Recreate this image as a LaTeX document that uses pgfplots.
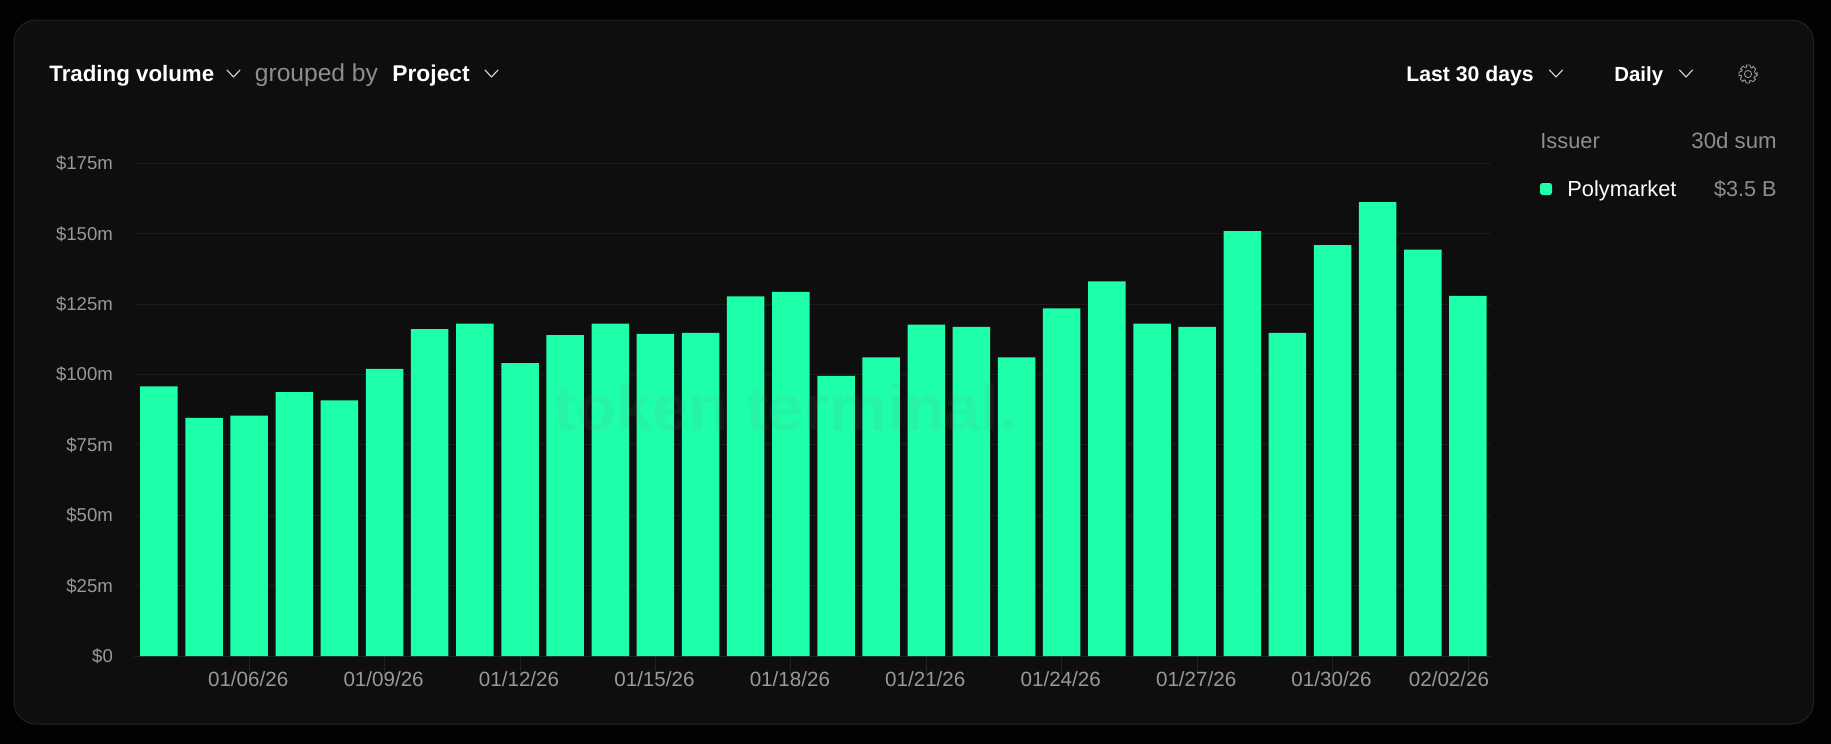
\documentclass[border=0pt]{standalone}
\usepackage{pgfplots}
\pgfplotsset{compat=1.18}
\usepackage{fontspec}
\setmainfont{Liberation Sans}
\definecolor{outer}{HTML}{020202}
\definecolor{panel}{HTML}{0E0E0E}
\definecolor{edge}{HTML}{222222}
\definecolor{gridc}{HTML}{1B1B1B}
\definecolor{barc}{HTML}{1EFFAA}
\definecolor{greytxt}{HTML}{8E8E8E}
\definecolor{ticktxt}{HTML}{999999}
\pgfplotstableread{
i v
0 95.8
1 84.6
2 85.4
3 93.7
4 90.8
5 102.0
6 116.1
7 118.1
8 104.0
9 114.0
10 118.1
11 114.4
12 114.8
13 127.7
14 129.3
15 99.5
16 106.1
17 117.7
18 116.9
19 106.1
20 123.5
21 133.1
22 118.1
23 116.9
24 150.9
25 114.8
26 145.9
27 161.2
28 144.3
29 127.9
}\volumes
\newcommand{\chev}[2]{\draw[white!85!black,line width=0.55pt,line cap=round,line join=round] (#1-6.5,#2-3.5) -- (#1,#2+3.5) -- (#1+6.5,#2-3.5);}
\begin{document}
\begin{tikzpicture}
\begin{scope}[x=0.5pt,y=-0.5pt]
\path[use as bounding box] (0,0) rectangle (1831,744);
\fill[outer] (0,0) rectangle (1831,744);
\filldraw[fill=panel,draw=edge,line width=0.5pt,rounded corners=11pt] (14,20) rectangle (1813.5,724);
\end{scope}
\begin{axis}[
  at={(67pt,-328pt)}, anchor=south west,
  scale only axis, width=678.5pt, height=246.35pt,
  xmin=-0.5516, xmax=29.51, ymin=0, ymax=175,
  axis y line=left, axis x line=bottom,
  axis line style={draw=edge,-},
  y axis line style={draw=none},
  ytick={0,25,50,75,100,125,150,175},
  yticklabels={\$0,\$25m,\$50m,\$75m,\$100m,\$125m,\$150m,\$175m},
  xtick={2,5,8,11,14,17,20,23,26,29},
  xticklabels={01/06/26,01/09/26,01/12/26,01/15/26,01/18/26,01/21/26,01/24/26,01/27/26,01/30/26,\makebox[0pt]{\hspace{-18pt}02/02/26}},
  tick align=outside,
  major tick length=9.5pt,
  xtick style={draw=edge,line width=0.4pt},
  ytick style={draw=none},
  ymajorgrids, grid style={draw=gridc,line width=0.5pt},
  xticklabel style={font=\fontsize{10.3}{12}\selectfont,text=ticktxt,anchor=base,yshift=-5.8pt,xshift=-0.5pt},
  yticklabel style={font=\fontsize{9.3}{12}\selectfont,text=ticktxt,anchor=east,xshift=2.5pt,yshift=-0.1pt},
  clip=false,
]
\addplot[ybar,bar width=18.75pt,fill=barc,draw=none,bar shift=0pt] table[x=i,y=v] {\volumes};
\end{axis}
\begin{scope}[x=0.5pt,y=-0.5pt]
\node[anchor=center,text=gray,opacity=0.09,font=\fontsize{32.5}{34}\bfseries\selectfont] at (786,407) {token terminal.};
\node[anchor=base west,inner sep=0,text=white,font=\bfseries\fontsize{11.15}{14}\selectfont] at (49,81) {Trading volume};
\chev{233.5}{73.5}
\node[anchor=base west,inner sep=0,text=greytxt,font=\fontsize{12.3}{14}\selectfont] at (254.5,81) {grouped by};
\node[anchor=base west,inner sep=0,text=white,font=\bfseries\fontsize{11.4}{14}\selectfont] at (392,81) {Project};
\chev{491.5}{73.5}
\node[anchor=base west,inner sep=0,text=white,font=\bfseries\fontsize{10.6}{14}\selectfont] at (1406,81) {Last 30 days};
\chev{1556}{73.5}
\node[anchor=base west,inner sep=0,text=white,font=\bfseries\fontsize{10.2}{14}\selectfont] at (1614,81) {Daily};
\chev{1686}{73.5}
% gear
\draw[ticktxt,line width=0.45pt,line join=round] (1748,74) circle (3.6);
\draw[ticktxt,line width=0.45pt,line join=round]
  (1748+9.2,74+1.8) \foreach \a in {0,45,...,315}{
    -- ({1748+9.2*cos(\a-11)},{74+9.2*sin(\a-11)})
    -- ({1748+9.2*cos(\a+11)},{74+9.2*sin(\a+11)})
    -- ({1748+7*cos(\a+24)},{74+7*sin(\a+24)})
    -- ({1748+7*cos(\a+34)},{74+7*sin(\a+34)})
  } -- cycle;
\node[anchor=base west,inner sep=0,text=greytxt,font=\fontsize{10.9}{13}\selectfont] at (1540,148) {Issuer};
\node[anchor=base east,inner sep=0,text=greytxt,font=\fontsize{11.1}{13}\selectfont] at (1777,148) {30d sum};
\fill[barc,rounded corners=1.3pt] (1540,183) rectangle (1552,195);
\node[anchor=base west,inner sep=0,text=white,font=\fontsize{10.9}{13}\selectfont] at (1567,196) {Polymarket};
\node[anchor=base east,inner sep=0,text=greytxt,font=\fontsize{10.8}{13}\selectfont] at (1777,196) {\$3.5 B};
\end{scope}
\end{tikzpicture}
\end{document}
